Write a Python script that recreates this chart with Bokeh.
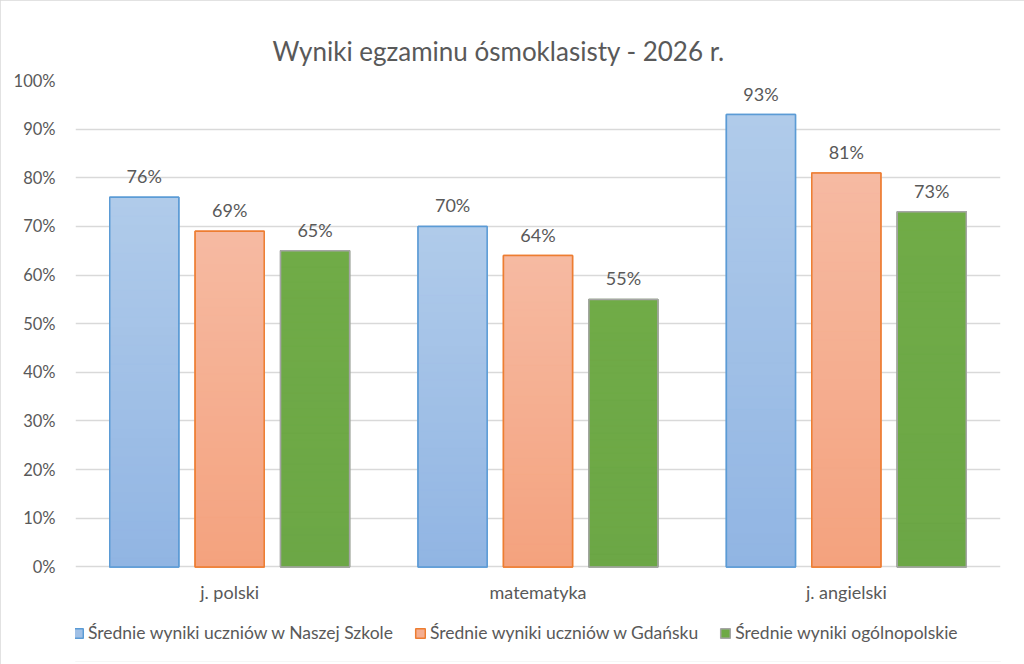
from bokeh.plotting import figure
from bokeh.models import (ColumnDataSource, FactorRange, Range1d, FixedTicker,
                          PrintfTickFormatter, Legend, LegendItem)
from bokeh.transform import dodge
from bokeh.core.properties import value
from bokeh.embed import file_html
from bokeh.resources import INLINE

# ---- data ----
categories = ["j. polski", "matematyka", "j. angielski"]
series_names = ["Średnie wyniki uczniów w Naszej Szkole",
                "Średnie wyniki uczniów w Gdańsku",
                "Średnie wyniki ogólnopolskie"]
school = [76, 70, 93]
gdansk = [69, 64, 81]
national = [65, 55, 73]
y_ticks = [0, 10, 20, 30, 40, 50, 60, 70, 80, 90, 100]

series_values = [school, gdansk, national]

# ---- style ----
FONT = "Lato"
TXT = "#595959"
FS = "18px"
top_colors = ["#b0cbea", "#f6baa2", "#70ab47"]
bottom_colors = ["#91b5e3", "#f4a27e", "#6ca746"]
line_colors = ["#5b9bd5", "#ed7d31", "#a5a5a5"]
offsets = [-0.277, 0.0, 0.277]
BAR_W = 0.224
N_SLICES = 40

W, H = 1024, 664
FRAME_L, FRAME_R, FRAME_T = 75, 1000, 80.5
ZERO_Y = 566.5           # pixel row of the 0 % line
FRAME_B = 661            # frame extends down to hold the labels and legend
PX_PER_UNIT = (ZERO_Y - FRAME_T) / 100.0
Y_MIN = -(FRAME_B - ZERO_Y) / PX_PER_UNIT


def hex2rgb(h):
    h = h.lstrip("#")
    return tuple(int(h[i:i + 2], 16) for i in (0, 2, 4))


def mix(c1, c2, t):
    a, b = hex2rgb(c1), hex2rgb(c2)
    return "#%02x%02x%02x" % tuple(round(a[i] + (b[i] - a[i]) * t) for i in range(3))


p = figure(x_range=FactorRange(*categories), y_range=Range1d(Y_MIN, 100),
           width=W, height=H, output_backend="svg", toolbar_location=None,
           min_border_left=FRAME_L, min_border_right=W - FRAME_R,
           min_border_top=int(FRAME_T), min_border_bottom=H - FRAME_B)
p.styles = {"outline": "3px solid #d9d9d9", "outline-offset": "-3px"}

p.title.text = "Wyniki egzaminu ósmoklasisty - 2026 r."
p.title.align = "left"
p.title.offset = 197
p.title.text_font = FONT
p.title.text_font_size = "26px"
p.title.text_font_style = "normal"
p.title.text_color = TXT
p.title.standoff = 28

p.outline_line_color = None
p.xgrid.grid_line_color = None
p.ygrid.grid_line_color = "#d9d9d9"
p.ygrid.grid_line_width = 1.4
p.xaxis.visible = False

p.yaxis.ticker = FixedTicker(ticks=y_ticks)
p.yaxis.formatter = PrintfTickFormatter(format="%d%%")
ax = p.yaxis[0]
ax.axis_line_color = None
ax.major_tick_line_color = None
ax.minor_tick_line_color = None
ax.major_label_text_font = FONT
ax.major_label_text_font_size = "16.5px"
ax.major_label_text_color = TXT
ax.major_label_standoff = 14

# category labels under the bars
csrc = ColumnDataSource(dict(cat=categories, zero=[0] * len(categories)))
p.text(x="cat", y="zero", text="cat", source=csrc, text_align="center",
       text_baseline="middle", y_offset=25, text_font=value(FONT),
       text_font_size=FS, text_color=TXT)

legend_items = []
for k, (name, vals) in enumerate(zip(series_names, series_values)):
    src = ColumnDataSource(dict(cat=categories, val=vals,
                                lab=["%d%%" % v for v in vals]))
    mid = mix(top_colors[k], bottom_colors[k], 0.5)
    base = p.vbar(x=dodge("cat", offsets[k], range=p.x_range), top="val",
                  width=BAR_W, source=src, fill_color=mid,
                  line_color=line_colors[k], line_width=1.5)
    # gradient slices (derived from the data values)
    sc, sb, st, scol = [], [], [], []
    for c, v in zip(categories, vals):
        for i in range(N_SLICES):
            sc.append(c)
            sb.append(v * i / N_SLICES)
            st.append(v * (i + 1) / N_SLICES)
            scol.append(mix(bottom_colors[k], top_colors[k], (i + 0.5) / N_SLICES))
    gsrc = ColumnDataSource(dict(cat=sc, bottom=sb, top=st, color=scol))
    p.vbar(x=dodge("cat", offsets[k], range=p.x_range), bottom="bottom", top="top",
           width=BAR_W, source=gsrc, fill_color="color", line_color="color",
           line_width=1)
    p.vbar(x=dodge("cat", offsets[k], range=p.x_range), top="val", width=BAR_W,
           source=src, fill_color=None, line_color=line_colors[k], line_width=1.5)
    p.text(x=dodge("cat", offsets[k], range=p.x_range), y="val", text="lab",
           source=src, text_align="center", text_baseline="bottom", y_offset=-10,
           text_font=value(FONT), text_font_size=FS, text_color=TXT)
    legend_items.append(LegendItem(label=name, renderers=[base]))

legend = Legend(items=legend_items, orientation="horizontal", location=(-3, 18),
                border_line_color=None, background_fill_alpha=0,
                label_text_font=FONT, label_text_font_size="17.5px",
                label_text_color=TXT, glyph_width=12, glyph_height=12,
                label_standoff=4, spacing=21, padding=0, margin=0)
p.add_layout(legend, "center")

open("out.html", "w").write(file_html(p, INLINE))
